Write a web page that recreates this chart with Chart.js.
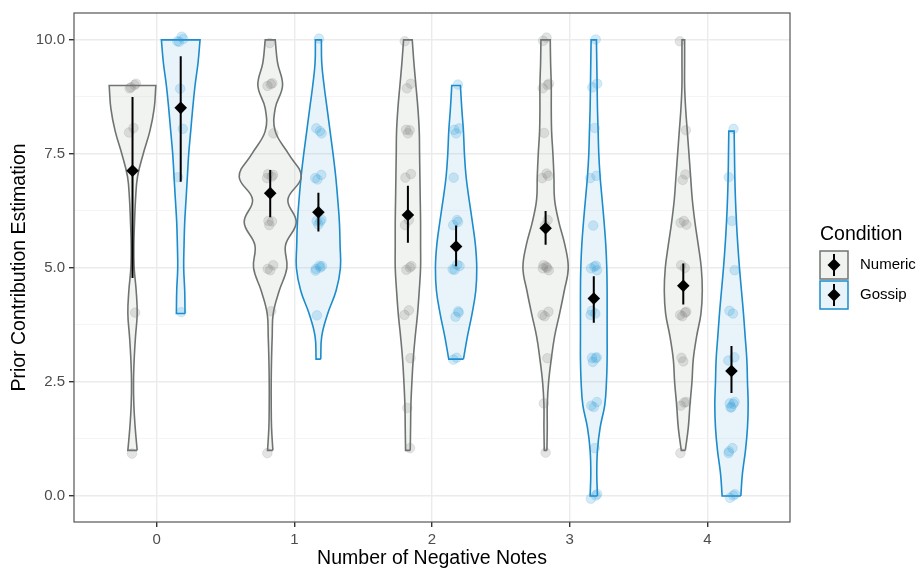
<!DOCTYPE html>
<html><head><meta charset="utf-8">
<script src="https://cdn.jsdelivr.net/npm/chart.js@4.4.1/dist/chart.umd.min.js"></script>
<style>html,body{margin:0;padding:0;background:#fff}#wrap{width:921px;height:571px;position:relative}</style>
</head><body><div id="wrap"><canvas id="c"></canvas></div>
<script>
// ---------- DATA ----------
const categories = [0, 1, 2, 3, 4];
const conditions = ['Numeric', 'Gossip'];
const yTickValues = [0, 1.25, 2.5, 3.75, 5, 6.25, 7.5, 8.75, 10];
const yMajorTicks = [0, 2.5, 5, 7.5, 10];

// mean and interval per number of negative notes
const numericMean = [7.13, 6.64, 6.16, 5.87, 4.61];
const numericLow  = [4.78, 6.11, 5.55, 5.51, 4.20];
const numericHigh = [8.75, 7.15, 6.80, 6.25, 5.10];
const gossipMean  = [8.51, 6.22, 5.47, 4.33, 2.74];
const gossipLow   = [6.89, 5.80, 5.04, 3.80, 2.26];
const gossipHigh  = [9.64, 6.65, 5.93, 4.82, 3.29];

// violin ranges
const numericMin = [1, 1, 1, 1, 1];
const gossipMin  = [4, 3, 3, 0, 0];
const densityStep = 0.5;
// violin half-widths (relative density) every 0.5 from min to max
const numericDensity = [
  [14, 8, 4, 3, 5, 9, 14, 11, 5, 4, 6, 9, 15, 32, 52, 65, 70],
  [8, 4, 3, 3, 4, 6, 9, 27, 50, 46, 78, 53, 93, 55, 15, 15, 37, 22, 15],
  [7, 8, 9, 12, 16, 22, 29, 34, 38, 38, 38, 37, 36, 35, 34, 30, 24, 18, 13],
  [4, 5, 5, 9, 17, 27, 42, 56, 68, 58, 40, 27, 25, 22, 18, 17, 17, 15, 14],
  [6, 15, 20, 26, 30, 40, 53, 57, 54, 45, 35, 27, 22, 17, 12, 7, 4, 4, 4]
];
const gossipDensity = [
  [13, 12, 9, 10, 12, 16, 20, 24, 30, 36, 43, 52, 58],
  [7, 10, 28, 53, 66, 65, 63, 58, 52, 44, 35, 26, 17, 10, 9],
  [22, 34, 48, 59, 62, 58, 49, 39, 30, 25, 22, 17, 13],
  [11, 9, 11, 19, 33, 38, 40, 40, 40, 40, 39, 36, 31, 25, 19, 15, 13, 11, 10, 9, 8],
  [28, 33, 42, 48, 50, 48, 46, 41, 36, 30, 24, 19, 15, 12, 10, 9, 8]
];

// individual responses
const numericResponses = [
  [9, 9, 9, 9, 8, 8, 4, 1],
  [10, 9, 9, 9, 8, 7, 7, 7, 7, 6, 6, 6, 5, 5, 5, 4, 1],
  [10, 9, 9, 8, 8, 8, 7, 7, 6, 6, 5, 5, 5, 4, 4, 3, 2, 1],
  [10, 10, 9, 9, 9, 8, 7, 7, 7, 6, 6, 5, 5, 5, 5, 5, 4, 4, 4, 3, 2, 1],
  [10, 8, 7, 7, 6, 6, 6, 5, 5, 4, 4, 4, 4, 3, 3, 2, 2, 2, 1]
];
const gossipResponses = [
  [10, 10, 10, 10, 9, 8, 7, 4],
  [10, 8, 8, 8, 7, 7, 7, 6, 6, 6, 6, 5, 5, 5, 5, 5, 4],
  [9, 8, 8, 8, 7, 6, 6, 6, 5, 5, 5, 5, 4, 4, 4, 3, 3],
  [10, 9, 9, 8, 7, 7, 6, 5, 5, 5, 5, 4, 4, 4, 3, 3, 3, 3, 2, 2, 2, 1, 0, 0, 0],
  [8, 7, 6, 5, 4, 4, 3, 3, 2, 2, 2, 2, 2, 1, 1, 1, 0, 0, 0]
];
const jitterX = [-0.021, 0.014, 0.025, -0.011, 0.007, -0.025, 0.019, -0.004, 0.015, -0.02, 0.004, 0.023, -0.015, 0.011, -0.023, 0.021, -0.007, 0.013, -0.013, 0.0, 0.022, -0.018, 0.007];
const jitterY = [0.03, -0.05, 0.06, -0.02, 0.05, -0.06, 0.01, 0.04, -0.04, 0.07, -0.03, 0.02, -0.07, 0.05, -0.01, 0.03, -0.05, 0.06, 0.0, -0.03, 0.04, -0.06, 0.02];

// ---------- STYLE ----------
const dodge = 0.175;
const densityToWidth = 1 / 413;
const numericStroke = '#6f7472', numericFill = 'rgba(205,212,200,0.28)', numericPoint = 'rgba(120,120,120,0.2)';
const gossipStroke = '#1b8ccc', gossipFill = 'rgba(120,185,225,0.17)', gossipPoint = 'rgba(40,155,215,0.2)';
const FONT = '"Liberation Sans", Arial, Helvetica, sans-serif';
Chart.defaults.font.family = FONT;

function violinData(center, min, dens) {
  const n = dens.length;
  const y = i => min + i * densityStep;
  const R = i => ({x: center + dens[i] * densityToWidth, y: y(i)});
  const L = i => ({x: center - dens[i] * densityToWidth, y: y(i)});
  const pts = [R(0), R(0)];
  for (let i = 1; i < n; i++) pts.push(R(i));
  pts.push(R(n - 1), L(n - 1), L(n - 1));
  for (let i = n - 2; i >= 0; i--) pts.push(L(i));
  pts.push(L(0), R(0));
  return pts;
}
function pointsData(centerOff, groups, g0) {
  const out = [];
  groups.forEach((vals, c) => vals.forEach((v, i) => {
    const k = (i + c * 7 + g0) % jitterX.length;
    out.push({x: categories[c] + centerOff + jitterX[k], y: v + jitterY[(k + 5) % jitterY.length]});
  }));
  return out;
}
function errData(centerOff, lo, hi) {
  const out = [];
  categories.forEach((c, i) => { out.push({x: c + centerOff, y: lo[i]}, {x: c + centerOff, y: hi[i]}, {x: c + centerOff, y: null}); });
  return out;
}

const datasets = [];
categories.forEach((c, i) => {
  datasets.push({type: 'line', data: violinData(c - dodge, numericMin[i], numericDensity[i]), borderColor: numericStroke, backgroundColor: numericFill, fill: 'shape', borderWidth: 1.6, tension: 0.4, pointRadius: 0, order: 10});
  datasets.push({type: 'line', data: violinData(c + dodge, gossipMin[i], gossipDensity[i]), borderColor: gossipStroke, backgroundColor: gossipFill, fill: 'shape', borderWidth: 1.6, tension: 0.4, pointRadius: 0, order: 10});
});
datasets.push({type: 'scatter', data: pointsData(-dodge, numericResponses, 0), backgroundColor: numericPoint, borderColor: numericPoint, borderWidth: 0.8, pointRadius: 4.8, order: 5});
datasets.push({type: 'scatter', data: pointsData(dodge, gossipResponses, 3), backgroundColor: gossipPoint, borderColor: gossipPoint, borderWidth: 0.8, pointRadius: 4.8, order: 5});
datasets.push({type: 'line', data: errData(-dodge, numericLow, numericHigh), borderColor: '#000', borderWidth: 2, pointRadius: 0, spanGaps: false, fill: false, tension: 0, order: 2});
datasets.push({type: 'line', data: errData(dodge, gossipLow, gossipHigh), borderColor: '#000', borderWidth: 2, pointRadius: 0, spanGaps: false, fill: false, tension: 0, order: 2});
datasets.push({type: 'scatter', data: categories.map((c, i) => ({x: c - dodge, y: numericMean[i]})), pointStyle: 'rectRot', pointRadius: 6.3, backgroundColor: '#000', borderColor: '#000', borderWidth: 0, order: 1});
datasets.push({type: 'scatter', data: categories.map((c, i) => ({x: c + dodge, y: gossipMean[i]})), pointStyle: 'rectRot', pointRadius: 6.3, backgroundColor: '#000', borderColor: '#000', borderWidth: 0, order: 1});

const panelBorder = {
  id: 'panelBorder',
  afterDraw(chart) {
    const {ctx, chartArea: a} = chart;
    ctx.save();
    ctx.strokeStyle = '#555';
    ctx.lineWidth = 1.2;
    ctx.strokeRect(a.left, a.top, a.right - a.left, a.bottom - a.top);
    ctx.restore();
  }
};
const legendKeys = {
  id: 'legendKeys',
  afterDraw(chart) {
    const {ctx, chartArea: a} = chart;
    const x0 = a.right + 30;
    ctx.save();
    ctx.fillStyle = '#000';
    ctx.font = '19.5px ' + FONT;
    ctx.textBaseline = 'alphabetic';
    ctx.textAlign = 'left';
    ctx.fillText('Condition', x0, 239.5);
    const styles = [[numericStroke, numericFill], [gossipStroke, gossipFill]];
    conditions.forEach((name, i) => {
      const y = 251 + i * 30;
      ctx.fillStyle = '#fff';
      ctx.fillRect(x0, y, 28, 28);
      ctx.fillStyle = styles[i][1];
      ctx.fillRect(x0, y, 28, 28);
      ctx.strokeStyle = styles[i][0];
      ctx.lineWidth = 1.5;
      ctx.strokeRect(x0, y, 28, 28);
      const cx = x0 + 14, cy = y + 14;
      ctx.strokeStyle = '#000';
      ctx.lineWidth = 2;
      ctx.beginPath(); ctx.moveTo(cx, y + 3); ctx.lineTo(cx, y + 25); ctx.stroke();
      ctx.fillStyle = '#000';
      ctx.beginPath(); ctx.moveTo(cx, cy - 6.5); ctx.lineTo(cx + 6.5, cy); ctx.lineTo(cx, cy + 6.5); ctx.lineTo(cx - 6.5, cy); ctx.closePath(); ctx.fill();
      ctx.font = '15px ' + FONT;
      ctx.textBaseline = 'middle';
      ctx.fillText(name, x0 + 40, cy);
    });
    ctx.restore();
  }
};

new Chart(document.getElementById('c'), {
  type: 'scatter',
  data: {datasets},
  options: {
    responsive: true,
    maintainAspectRatio: false,
    animation: false,
    devicePixelRatio: 1,
    layout: {padding: {left: 0, right: 131, top: 10, bottom: 0}},
    plugins: {legend: {display: false}, tooltip: {enabled: false}},
    scales: {
      x: {
        type: 'linear', min: -0.6, max: 4.6,
        afterBuildTicks: s => { s.ticks = categories.map(v => ({value: v})); },
        afterFit: s => { s.height = 49; },
        ticks: {color: '#4d4d4d', font: {size: 15}, padding: 4, callback: v => String(v)},
        grid: {color: '#ebebeb', lineWidth: 1.4, tickColor: '#333', tickLength: 5},
        border: {display: false},
        title: {display: true, text: 'Number of Negative Notes', color: '#000', font: {size: 19.5}, padding: {top: 0, bottom: 0.5}}
      },
      y: {
        type: 'linear', min: -0.57, max: 10.59,
        afterBuildTicks: s => { s.ticks = yTickValues.map(v => ({value: v})); },
        afterFit: s => { s.width = 74; },
        ticks: {color: '#4d4d4d', font: {size: 15}, padding: 4, callback: v => yMajorTicks.includes(v) ? v.toFixed(1) : ''},
        grid: {
          color: c => yMajorTicks.includes(c.tick && c.tick.value) ? '#ebebeb' : '#f2f2f2',
          lineWidth: c => yMajorTicks.includes(c.tick && c.tick.value) ? 1.4 : 0.8,
          tickColor: c => yMajorTicks.includes(c.tick && c.tick.value) ? '#333' : 'rgba(0,0,0,0)',
          tickLength: 5
        },
        border: {display: false},
        title: {display: true, text: 'Prior Contribution Estimation', color: '#000', font: {size: 19.5}, padding: {top: 8, bottom: 0}}
      }
    }
  },
  plugins: [panelBorder, legendKeys]
});
</script>
</body></html>
